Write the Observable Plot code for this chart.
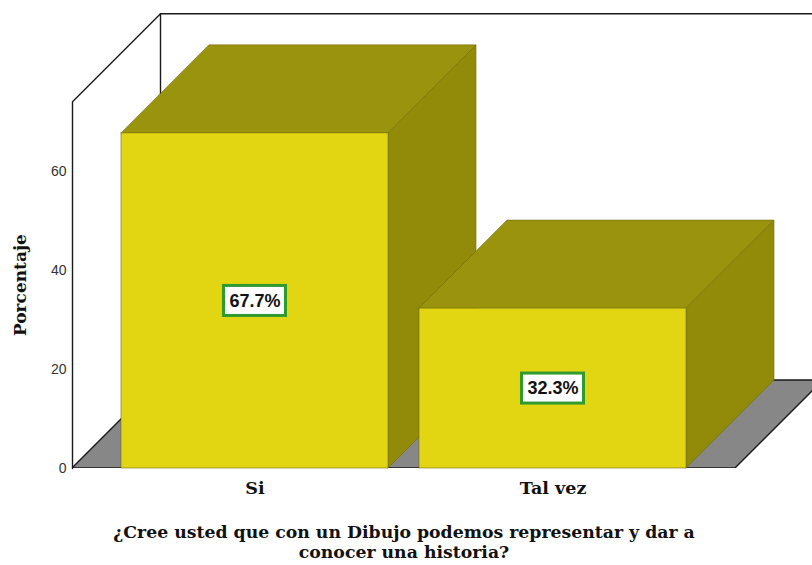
<!DOCTYPE html>
<html>
<head>
<meta charset="utf-8">
<script src="https://cdn.jsdelivr.net/npm/d3@7"></script>
<script src="https://cdn.jsdelivr.net/npm/@observablehq/plot@0.6"></script>
<style>
  html, body { margin: 0; padding: 0; background: #fff; overflow: hidden; }
  #chart svg { display: block; }
</style>
</head>
<body>
<div id="chart"></div>
<script>
// ---- data ----
const categories = ["Si", "Tal vez"];
const percentages = [67.7, 32.3];
const yTicks = [0, 20, 40, 60];
const yLabel = "Porcentaje";
const xTitle = "¿Cree usted que con un Dibujo podemos representar y dar a\nconocer una historia?";

// ---- layout (in scale units) ----
const barHalf = 0.448;      // half bar width (category units)
const depthX = 0.2953;      // 3D depth offset along x (category units)
const depthY = 17.78;       // 3D depth offset along y (percentage units)
const frontLeft = -0.6124;  // floor front left
const frontRight = 1.6124;  // floor front right
const wallTop = 74.1;       // height of side wall (front)

const bars = categories.map((c, i) => ({
  c, i, v: percentages[i],
  L: i - barHalf, R: i + barHalf,
  label: percentages[i].toFixed(1) + "%"
}));

const sidePts = bars.flatMap(b => [
  {z: b.c, x: b.R, y1: 0, y2: b.v},
  {z: b.c, x: b.R + depthX, y1: depthY, y2: b.v + depthY}
]);
const topPts = bars.flatMap(b => [
  {z: b.c, y: b.v, x1: b.L, x2: b.R},
  {z: b.c, y: b.v + depthY, x1: b.L + depthX, x2: b.R + depthX}
]);
const floorPts = [
  {y: 0, x1: frontLeft, x2: frontRight},
  {y: depthY, x1: frontLeft + depthX, x2: frontRight + depthX}
];
const leftWall = [
  {x: frontLeft, y: 0},
  {x: frontLeft, y: wallTop},
  {x: frontLeft + depthX, y: wallTop + depthY}
];
const backWallEdge = [
  {x: frontLeft + depthX, y: depthY},
  {x: frontLeft + depthX, y: wallTop + depthY}
];
const backWallTop = [
  {x: frontLeft + depthX, y: wallTop + depthY},
  {x: frontRight + depthX, y: wallTop + depthY}
];

const W = 812, H = 565;
const mLeft = 72, mTop = 10, mBottom = 97;
const pxPerUnitX = 298, pxPerUnitY = 4.95;
const xMax = frontLeft + (W - mLeft) / pxPerUnitX;
const yMax = (H - mBottom - mTop) / pxPerUnitY;

const serif = "'DejaVu Serif', 'Liberation Serif', serif";
const sans = "'Liberation Sans', Arial, sans-serif";

const edge = "#6e6806";

const chart = Plot.plot({
  width: W,
  height: H,
  marginLeft: mLeft,
  marginRight: 0,
  marginTop: mTop,
  marginBottom: mBottom,
  x: {type: "linear", domain: [frontLeft, xMax]},
  y: {type: "linear", domain: [0, yMax]},
  style: {background: "white", overflow: "hidden"},
  marks: [
    // back wall edges
    Plot.line(backWallEdge, {x: "x", y: "y", stroke: "#1a1a1a", strokeWidth: 1.4}),
    Plot.line(backWallTop, {x: "x", y: "y", stroke: "#1a1a1a", strokeWidth: 1.4, clip: true}),
    // floor
    Plot.areaX(floorPts, {y: "y", x1: "x1", x2: "x2", fill: "#878787", stroke: "#1a1a1a", strokeWidth: 1.4, clip: true}),
    // left wall
    Plot.line(leftWall, {x: "x", y: "y", stroke: "#1a1a1a", strokeWidth: 1.4}),
    // bar faces
    Plot.areaY(sidePts, {x: "x", y1: "y1", y2: "y2", z: "z", fill: "#928a09", stroke: edge, strokeWidth: 0.7, strokeOpacity: 0.8}),
    Plot.areaX(topPts, {y: "y", x1: "x1", x2: "x2", z: "z", fill: "#9a930e", stroke: edge, strokeWidth: 0.7, strokeOpacity: 0.8}),
    Plot.rect(bars, {x1: "L", x2: "R", y1: 0, y2: "v", fill: "#e2d511", stroke: edge, strokeWidth: 0.7, strokeOpacity: 0.8}),
    // value labels
    Plot.rect(bars, {
      x1: "i", x2: "i", y1: d => d.v / 2, y2: d => d.v / 2,
      insetLeft: -31, insetRight: -31, insetTop: -15, insetBottom: -15,
      fill: "white", stroke: "#2f9a2f", strokeWidth: 3
    }),
    Plot.text(bars, {
      x: "i", y: d => d.v / 2, text: "label",
      fontSize: 18, fontWeight: "bold", fontFamily: sans, fill: "#111"
    }),
    // axes
    Plot.axisY({
      ticks: yTicks, tickSize: 0, tickPadding: 6, label: null,
      fontSize: 14, fontFamily: sans, color: "#333"
    }),
    Plot.axisX({
      ticks: bars.map(b => b.i), tickFormat: i => categories[i],
      tickSize: 0, tickPadding: 13, label: null,
      fontSize: 17.5, fontWeight: "bold", fontFamily: serif, color: "#111"
    }),
    // axis titles
    Plot.text([yLabel], {
      x: frontLeft, y: wallTop / 2, text: d => d, rotate: -90, dx: -52,
      fontSize: 17, fontWeight: "bold", fontFamily: serif, fill: "#111"
    }),
    Plot.text([xTitle], {
      x: (frontLeft + frontRight) / 2, y: 0, text: d => d, dy: 73,
      lineHeight: 1.17, textAnchor: "middle", lineAnchor: "middle",
      fontSize: 17.3, fontWeight: "bold", fontFamily: serif, fill: "#111"
    })
  ]
});

document.getElementById("chart").append(chart);
</script>
</body>
</html>
